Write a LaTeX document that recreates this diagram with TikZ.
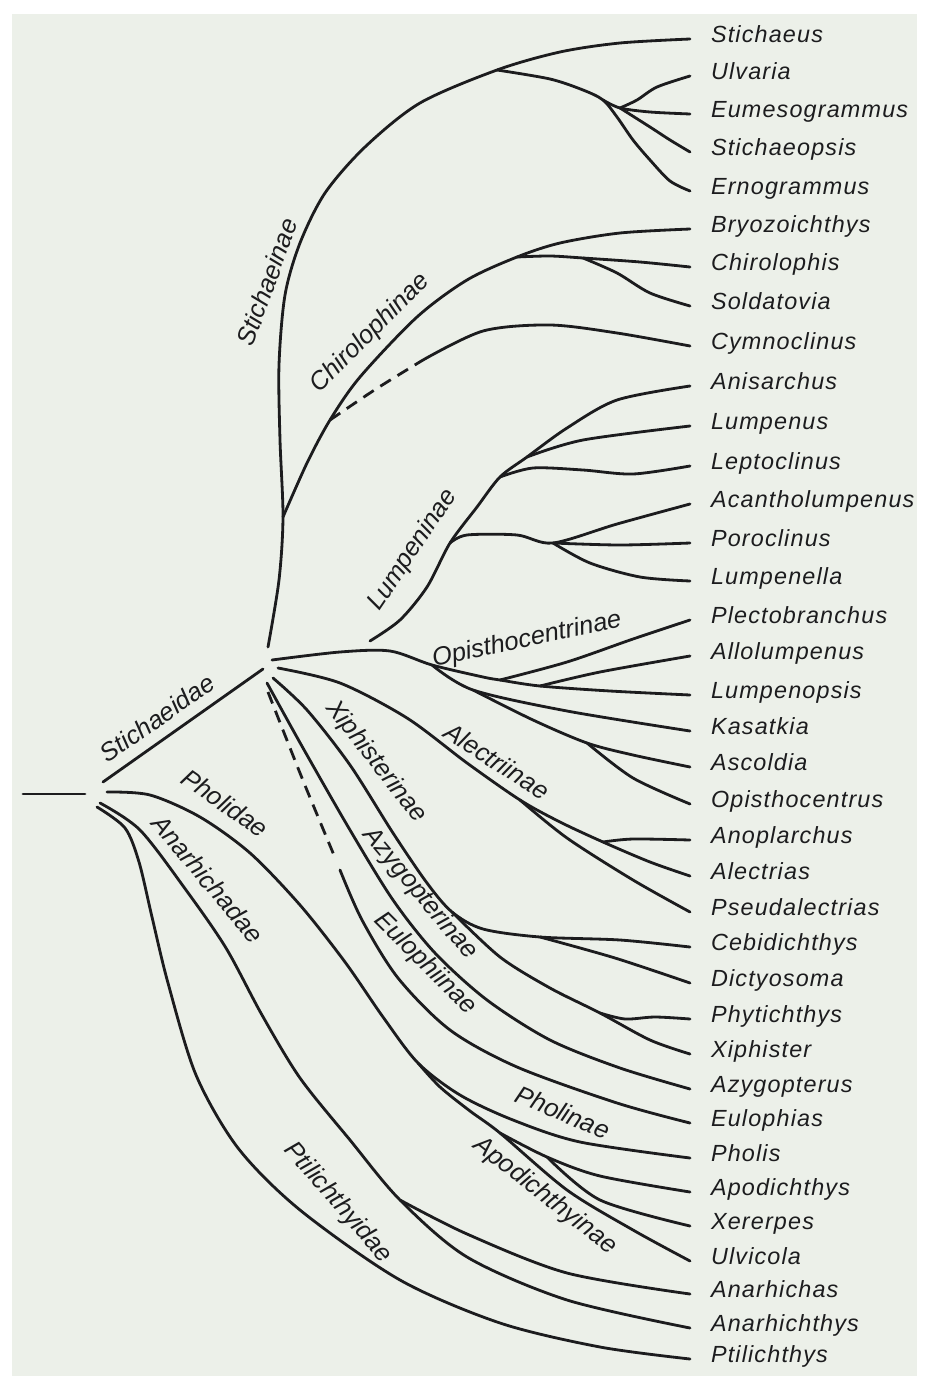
\documentclass[tikz,border=0pt]{standalone}
\usepackage{fontspec}
\usepackage{tikz}
\newfontfamily\genusfont[LetterSpace=5]{Liberation Sans}
\newfontfamily\groupfont{Liberation Sans}
\definecolor{paper}{RGB}{236,240,233}
\definecolor{ink}{RGB}{28,28,30}

\begin{document}
\begin{tikzpicture}[x = 0.02cm, y = -0.02cm,
    branch/.style = {ink, line width = 1.6pt, line cap = round},
    broken/.style = {ink, line width = 1.6pt, dash pattern = on 7pt off 4.5pt},
    leaf/.style = {anchor = west, inner xsep = 0.42cm, inner ysep = 0pt, outer sep = 0pt,
        text height = 1ex, text depth = 0pt, text = ink,
        font = \genusfont\itshape\fontsize{13.3}{15}\selectfont},
    taxon/.style = {inner sep = 0pt, text = ink,
        font = \groupfont\itshape\fontsize{14.5}{16}\selectfont}]
    %% paper
    \useasboundingbox (0, 0) rectangle (926, 1386);
    \fill[white] (0, 0) rectangle (926, 1386);
    \fill[paper] (12, 14) rectangle (917, 1376);

    %% genera
    \node[leaf] (Stichaeus) at (690, 39) {Stichaeus};
    \node[leaf] (Ulvaria) at (690, 76) {Ulvaria};
    \node[leaf] (Eumesogrammus) at (690, 114) {Eumesogrammus};
    \node[leaf] (Stichaeopsis) at (690, 152) {Stichaeopsis};
    \node[leaf] (Ernogrammus) at (690, 191) {Ernogrammus};
    \node[leaf] (Bryozoichthys) at (690, 229) {Bryozoichthys};
    \node[leaf] (Chirolophis) at (690, 267) {Chirolophis};
    \node[leaf] (Soldatovia) at (690, 306) {Soldatovia};
    \node[leaf] (Cymnoclinus) at (690, 346) {Cymnoclinus};
    \node[leaf] (Anisarchus) at (690, 386) {Anisarchus};
    \node[leaf] (Lumpenus) at (690, 426) {Lumpenus};
    \node[leaf] (Leptoclinus) at (690, 466) {Leptoclinus};
    \node[leaf] (Acantholumpenus) at (690, 504) {Acantholumpenus};
    \node[leaf] (Poroclinus) at (690, 543) {Poroclinus};
    \node[leaf] (Lumpenella) at (690, 581) {Lumpenella};
    \node[leaf] (Plectobranchus) at (690, 620) {Plectobranchus};
    \node[leaf] (Allolumpenus) at (690, 656) {Allolumpenus};
    \node[leaf] (Lumpenopsis) at (690, 695) {Lumpenopsis};
    \node[leaf] (Kasatkia) at (690, 731) {Kasatkia};
    \node[leaf] (Ascoldia) at (690, 767) {Ascoldia};
    \node[leaf] (Opisthocentrus) at (690, 804) {Opisthocentrus};
    \node[leaf] (Anoplarchus) at (690, 840) {Anoplarchus};
    \node[leaf] (Alectrias) at (690, 876) {Alectrias};
    \node[leaf] (Pseudalectrias) at (690, 912) {Pseudalectrias};
    \node[leaf] (Cebidichthys) at (690, 947) {Cebidichthys};
    \node[leaf] (Dictyosoma) at (690, 983) {Dictyosoma};
    \node[leaf] (Phytichthys) at (690, 1019) {Phytichthys};
    \node[leaf] (Xiphister) at (690, 1054) {Xiphister};
    \node[leaf] (Azygopterus) at (690, 1089) {Azygopterus};
    \node[leaf] (Eulophias) at (690, 1123) {Eulophias};
    \node[leaf] (Pholis) at (690, 1158) {Pholis};
    \node[leaf] (Apodichthys) at (690, 1192) {Apodichthys};
    \node[leaf] (Xererpes) at (690, 1226) {Xererpes};
    \node[leaf] (Ulvicola) at (690, 1261) {Ulvicola};
    \node[leaf] (Anarhichas) at (690, 1294) {Anarhichas};
    \node[leaf] (Anarhichthys) at (690, 1328) {Anarhichthys};
    \node[leaf] (Ptilichthys) at (690, 1359) {Ptilichthys};

    %% root and Stichaeidae
    \coordinate (root) at (23, 794);
    \coordinate (fam) at (85, 794);
    \draw[branch] (root) -- (fam);
    \coordinate (sd0) at (103, 782);
    \coordinate (sd1) at (263, 669);
    \draw[branch] (sd0) -- (sd1);

    %% Stichaeinae
    \coordinate (st0) at (268, 647);
    \coordinate (stB) at (283, 517);
    \coordinate (stA) at (497, 70);
    \coordinate (stC) at (603, 100);
    \coordinate (stD) at (620, 108);
    \draw[branch] plot[smooth] coordinates {(st0) (279, 580) (stB) (280, 440) (279, 365)
        (285, 295) (300, 243) (325, 193) (365, 147) (420, 103) (stA) (560, 52) (620, 43) (Stichaeus.west)};
    \draw[branch] plot[smooth] coordinates {(stA) (550, 79) (583, 90) (stC) (617, 117)
        (633, 140) (650, 160) (670, 181) (Ernogrammus.west)};
    \draw[branch] plot[smooth] coordinates {(stC) (stD) (650, 112) (Eumesogrammus.west)};
    \draw[branch] plot[smooth] coordinates {(stD) (637, 100) (657, 87) (Ulvaria.west)};
    \draw[branch] plot[smooth] coordinates {(stD) (650, 127) (670, 140) (Stichaeopsis.west)};

    %% Chirolophinae
    \coordinate (chB) at (330, 420);
    \coordinate (chC) at (517, 257);
    \coordinate (chD) at (583, 258);
    \coordinate (cyA) at (423, 360);
    \draw[branch] plot[smooth] coordinates {(stB) (307, 463) (chB) (360, 377) (417, 317)
        (467, 280) (chC) (560, 243) (620, 233) (Bryozoichthys.west)};
    \draw[branch] plot[smooth] coordinates {(chC) (550, 256) (chD) (640, 262) (Chirolophis.west)};
    \draw[branch] plot[smooth] coordinates {(chD) (617, 273) (650, 293) (Soldatovia.west)};
    \draw[broken] plot[smooth] coordinates {(chB) (376, 389) (cyA)};
    \draw[branch] plot[smooth] coordinates {(cyA) (483, 331) (550, 325) (617, 333) (Cymnoclinus.west)};

    %% Lumpeninae
    \coordinate (luA) at (370, 641);
    \coordinate (luF) at (450, 543);
    \coordinate (luH) at (500, 477);
    \coordinate (luG) at (527, 457);
    \coordinate (luI) at (553, 543);
    \draw[branch] plot[smooth] coordinates {(luA) (400, 620) (427, 587) (luF) (477, 507) (luH)
        (luG) (567, 428) (617, 400) (Anisarchus.west)};
    \draw[branch] plot[smooth] coordinates {(luG) (583, 440) (Lumpenus.west)};
    \draw[branch] plot[smooth] coordinates {(luH) (533, 468) (583, 470) (633, 474) (Leptoclinus.west)};
    \draw[branch] plot[smooth] coordinates {(luF) (467, 535) (517, 535) (luI) (617, 524) (Acantholumpenus.west)};
    \draw[branch] plot[smooth] coordinates {(luI) (620, 545) (Poroclinus.west)};
    \draw[branch] plot[smooth] coordinates {(luI) (590, 563) (640, 577) (Lumpenella.west)};

    %% Opisthocentrinae
    \coordinate (opA) at (272, 660);
    \coordinate (opK) at (432, 665);
    \coordinate (opJ) at (500, 680);
    \coordinate (opJJ) at (540, 686);
    \coordinate (opL) at (473, 690);
    \coordinate (opM) at (587, 743);
    \draw[branch] plot[smooth] coordinates {(opA) (340, 652) (390, 651) (opK) (483, 677) (opJ)
        (opJJ) (610, 691) (Lumpenopsis.west)};
    \draw[branch] plot[smooth] coordinates {(opJ) (567, 662) (633, 639) (Plectobranchus.west)};
    \draw[branch] plot[smooth] coordinates {(opJJ) (600, 672) (Allolumpenus.west)};
    \draw[branch] plot[smooth] coordinates {(opK) (opL) (567, 711) (Kasatkia.west)};
    \draw[branch] plot[smooth] coordinates {(opL) (533, 720) (opM) (633, 755) (Ascoldia.west)};
    \draw[branch] plot[smooth] coordinates {(opM) (633, 778) (Opisthocentrus.west)};

    %% Alectriinae
    \coordinate (alA) at (278, 668);
    \coordinate (alN) at (520, 800);
    \coordinate (alO) at (603, 842);
    \draw[branch] plot[smooth] coordinates {(alA) (340, 683) (407, 718) (467, 763) (alN)
        (560, 822) (alO) (650, 862) (Alectrias.west)};
    \draw[branch] plot[smooth] coordinates {(alO) (633, 839) (Anoplarchus.west)};
    \draw[branch] plot[smooth] coordinates {(alN) (567, 838) (633, 880) (Pseudalectrias.west)};

    %% Xiphisterinae
    \coordinate (xiA) at (273, 678);
    \coordinate (xiP) at (452, 912);
    \coordinate (xiQ) at (540, 937);
    \coordinate (xiR) at (600, 1013);
    \draw[branch] plot[smooth] coordinates {(xiA) (307, 710) (350, 765) (393, 833) (427, 883) (xiP)
        (483, 929) (xiQ) (620, 940) (Cebidichthys.west)};
    \draw[branch] plot[smooth] coordinates {(xiQ) (615, 958) (Dictyosoma.west)};
    \draw[branch] plot[smooth] coordinates {(xiP) (500, 957) (550, 988) (xiR) (650, 1040) (Xiphister.west)};
    \draw[branch] plot[smooth] coordinates {(xiR) (625, 1019) (655, 1017) (Phytichthys.west)};

    %% Azygopterinae, Eulophiinae
    \coordinate (azA) at (267, 683);
    \draw[branch] plot[smooth] coordinates {(azA) (303, 748) (350, 830) (393, 900) (435, 953)
        (487, 1000) (550, 1040) (620, 1068) (Azygopterus.west)};
    \coordinate (euA) at (268, 692);
    \coordinate (euB) at (336, 860);
    \coordinate (euC) at (340, 870);
    \draw[broken] plot[smooth] coordinates {(euA) (302, 778) (euB)};
    \draw[branch] plot[smooth] coordinates {(euC) (362, 920) (398, 978) (450, 1030) (517, 1067)
        (617, 1103) (Eulophias.west)};

    %% Pholidae
    \coordinate (phA) at (107, 792);
    \coordinate (phS) at (418, 1063);
    \coordinate (phT) at (500, 1133);
    \coordinate (phU) at (547, 1157);
    \draw[branch] plot[smooth] coordinates {(phA) (150, 795) (200, 817) (250, 853) (300, 905)
        (345, 962) (383, 1017) (phS) (460, 1095) (513, 1120) (580, 1142) (Pholis.west)};
    \draw[branch] plot[smooth] coordinates {(phS) (440, 1087) (470, 1111) (phT) (567, 1190)
        (633, 1230) (Ulvicola.west)};
    \draw[branch] plot[smooth] coordinates {(phT) (phU) (600, 1176) (Apodichthys.west)};
    \draw[branch] plot[smooth] coordinates {(phU) (600, 1200) (Xererpes.west)};

    %% Anarhichadae
    \coordinate (anA) at (100, 803);
    \coordinate (anV) at (400, 1200);
    \draw[branch] plot[smooth] coordinates {(anA) (140, 830) (186, 890) (226, 948) (262, 1015)
        (300, 1078) (350, 1140) (anV) (467, 1257) (567, 1300) (Anarhichthys.west)};
    \draw[branch] plot[smooth] coordinates {(anV) (467, 1234) (567, 1273) (Anarhichas.west)};

    %% Ptilichthyidae
    \coordinate (ptA) at (97, 807);
    \draw[branch] plot[smooth] coordinates {(ptA) (125, 828) (139, 862) (152, 917) (168, 983)
        (196, 1075) (238, 1148) (300, 1210) (400, 1280) (500, 1323) (600, 1347) (Ptilichthys.west)};

    %% group names
    \node[taxon, rotate = 35] (lStichaeidae) at (157, 718) {Stichaeidae};
    \node[taxon, rotate = -35] (lPholidae) at (225, 803) {Pholidae};
    \node[taxon, rotate = -50] (lAnarhichadae) at (208, 879) {Anarhichadae};
    \node[taxon, rotate = 70] (lStichaeinae) at (267, 282) {Stichaeinae};
    \node[taxon, rotate = 45] (lChirolophinae) at (370, 333) {Chirolophinae};
    \node[taxon, rotate = 56] (lLumpeninae) at (413, 550) {Lumpeninae};
    \node[taxon, rotate = 12] (lOpisthocentrinae) at (527, 640) {Opisthocentrinae};
    \node[taxon, rotate = -33] (lAlectriinae) at (497, 761) {Alectriinae};
    \node[taxon, rotate = -52] (lXiphisterinae) at (376, 762) {Xiphisterinae};
    \node[taxon, rotate = -50] (lAzygopterinae) at (420, 894) {Azygopterinae};
    \node[taxon, rotate = -45] (lEulophiinae) at (425, 964) {Eulophiinae};
    \node[taxon, rotate = -23] (lPholinae) at (563, 1112) {Pholinae};
    \node[taxon, rotate = -38] (lApodichthyinae) at (545, 1196) {Apodichthyinae};
    \node[taxon, rotate = -49] (lPtilichthyidae) at (338, 1203) {Ptilichthyidae};
\end{tikzpicture}
\end{document}
